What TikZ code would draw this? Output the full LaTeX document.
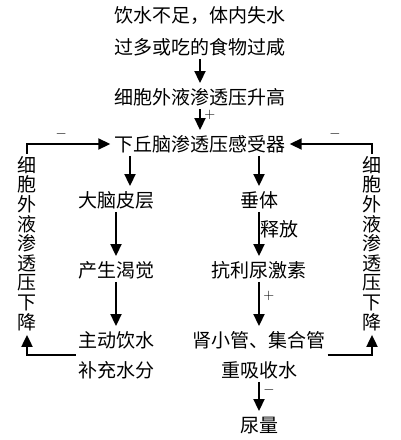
\documentclass[tikz,border=0pt]{standalone}
\usepackage{fontspec}
\usetikzlibrary{arrows.meta}
\newfontfamily\cjk{Noto Sans CJK SC}
\tikzset{
    txt/.style={font=\cjk\fontsize{19}{19.6}\selectfont, text height=15.5pt, text depth=1pt, inner xsep=2pt, inner ysep=3.5pt},
    vtxt/.style={font=\cjk\fontsize{19}{19.6}\selectfont, align=center, inner sep=2pt},
    arr/.style={line width=1.9pt, -{Triangle[length=12pt,width=11pt]}, shorten >=2pt},
    lab/.style={font=\fontsize{14}{14}\selectfont, inner sep=1.5pt}
}
\begin{document}
\begin{tikzpicture}[x=1pt,y=-1pt]
    \useasboundingbox (0,0) rectangle (400,440);

    \node[txt] (ys1) at (200,15) {饮水不足，体内失水};
    \node[txt] (ys2) at (200,47) {过多或吃的食物过咸};
    \node[txt] (sg)  at (200,97) {细胞外液渗透压升高};
    \node[txt] (xqn) at (200,144) {下丘脑渗透压感受器};
    \node[txt] (dn)  at (116,200) {大脑皮层};
    \node[txt] (ct)  at (259,200) {垂体};
    \node[txt] (kj)  at (116,270) {产生渴觉};
    \node[txt] (kl)  at (259,270) {抗利尿激素};
    \node[txt] (zd)  at (116,340) {主动饮水};
    \node[txt] (bc)  at (116,370) {补充水分};
    \node[txt] (sx)  at (259,340) {肾小管、集合管};
    \node[txt] (cx)  at (259,370) {重吸收水};
    \node[txt] (nl)  at (259,425) {尿量};
    \node[vtxt] (xjl) at (27,243.5) {细\\胞\\外\\液\\渗\\透\\压\\下\\降};
    \node[vtxt] (xjr) at (372,243.5) {细\\胞\\外\\液\\渗\\透\\压\\下\\降};
    \coordinate (dnx) at ([xshift=14pt]dn.north);

    \draw[arr] (ys2) -- (sg);
    \draw[arr] (sg) -- node[lab, right, pos=0.25, xshift=2pt] {$+$} (xqn);
    \draw[arr] (dnx |- xqn.south) -- (dnx);
    \draw[arr] (ct |- xqn.south) -- (ct);
    \draw[arr] (dn) -- (kj);
    \draw[arr] (kj) -- (zd);
    \draw[arr] (ct) -- node[txt, right, pos=0.38, inner xsep=1pt] {释放} (kl);
    \draw[arr] (kl) -- node[lab, right, pos=0.3, xshift=2pt] {$+$} (sx);
    \draw[arr] (cx) -- node[lab, right, pos=0.25, xshift=2pt] {$-$} (nl);

    \draw[arr] (xjl) |- node[lab, above, pos=0.7, yshift=3pt] {$-$} (xqn);
    \draw[arr] (xjr) |- node[lab, above, pos=0.72, yshift=3pt] {$-$} (xqn);
    \draw[arr] ([yshift=-3pt]zd.south west) -| (xjl);
    \draw[arr] ([yshift=-3pt]sx.south east) -| (xjr);
\end{tikzpicture}
\end{document}
